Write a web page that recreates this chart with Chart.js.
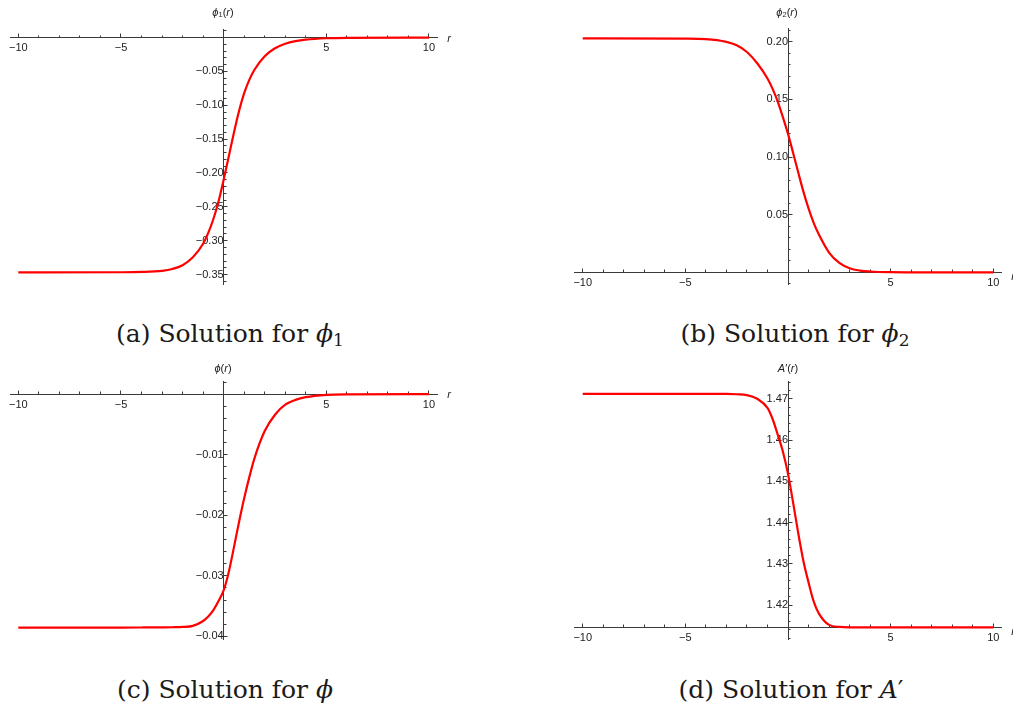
<!DOCTYPE html>
<html>
<head>
  <meta charset="utf-8">
  <title>Solutions</title>
  <script src="https://cdn.jsdelivr.net/npm/chart.js"></script>
  <style>
    body { margin: 0; width: 1013px; height: 711px; overflow: hidden; background: #fff; position: relative; }
    canvas { position: absolute; }
    .lab { position: absolute; transform: translate(-50%, -50%); font-family: 'Liberation Sans', Arial, sans-serif;
           font-size: 11px; color: #222; white-space: nowrap; }
    .lab sub { font-size: 7.5px; vertical-align: -1px; }
    .cap { position: absolute; width: 400px; text-align: center; line-height: 30px; font-family: 'DejaVu Serif', serif;
           font-size: 25px; color: #1a1a1a; white-space: nowrap; }
    .cap sub { font-size: 17px; vertical-align: -4px; font-style: normal; }
  </style>
</head>
<body>
  <canvas id="ca" width="480" height="300" style="left:0px;top:0px"></canvas>
  <canvas id="cb" width="453" height="300" style="left:560px;top:0px"></canvas>
  <canvas id="cc" width="480" height="300" style="left:0px;top:355px"></canvas>
  <canvas id="cd" width="453" height="300" style="left:560px;top:355px"></canvas>

  <div class="lab" style="left:223px;top:12px"><i>ϕ</i><sub>1</sub>(<i>r</i>)</div>
  <div class="lab" style="left:787px;top:12px"><i>ϕ</i><sub>2</sub>(<i>r</i>)</div>
  <div class="lab" style="left:223px;top:368px"><i>ϕ</i>(<i>r</i>)</div>
  <div class="lab" style="left:788px;top:368px"><i>A</i>′(<i>r</i>)</div>
  <div class="lab" style="left:449px;top:38px"><i>r</i></div>
  <div class="lab" style="left:449px;top:394px"><i>r</i></div>
  <div class="lab" style="left:1013px;top:276px"><i>r</i></div>
  <div class="lab" style="left:1013px;top:631px"><i>r</i></div>

  <div class="cap" style="left:30px;top:319px">(a) Solution for <i>ϕ</i><sub>1</sub></div>
  <div class="cap" style="left:595px;top:319px">(b) Solution for <i>ϕ</i><sub>2</sub></div>
  <div class="cap" style="left:25px;top:675px">(c) Solution for <i>ϕ</i></div>
  <div class="cap" style="left:591px;top:675px">(d) Solution for <i>A</i>′</div>

  <script>
    // values
    const r = [-10, -5, -4, -3, -2.5, -2, -1.5, -1, -0.75, -0.5, -0.25, 0, 0.25, 0.5, 0.75, 1, 1.25, 1.5, 2, 2.5, 3, 3.5, 4, 5, 6, 10];
    const phi1 = [-0.3468, -0.3466, -0.3462, -0.3445, -0.3418, -0.3362, -0.3245, -0.3045, -0.2885, -0.2680, -0.2420, -0.2100,
                  -0.1755, -0.1405, -0.1085, -0.0820, -0.0625, -0.0475, -0.0275, -0.0158, -0.0090, -0.0052, -0.0030, -0.0010, -0.0003, 0];
    const phi2 = [0.2028, 0.2026, 0.2022, 0.1998, 0.1968, 0.1910, 0.1812, 0.1680, 0.1590, 0.1480, 0.1345, 0.1200,
                  0.1035, 0.0865, 0.0700, 0.0555, 0.0430, 0.0330, 0.0172, 0.0082, 0.0036, 0.0016, 0.0008, 0.0002, 0.0001, 0];
    const phi = [-0.03853, -0.03853, -0.03852, -0.03850, -0.03848, -0.03843, -0.03825, -0.03745, -0.03670, -0.03565, -0.03415, -0.03240,
                 -0.02935, -0.02530, -0.02110, -0.01720, -0.01370, -0.01060, -0.00610, -0.00340, -0.00175, -0.00095, -0.00050, -0.00012, -0.00003, 0];
    const aPrime = [1.4712, 1.4712, 1.4712, 1.4712, 1.4711, 1.4709, 1.4700, 1.4678, 1.4651, 1.4613, 1.4572, 1.4518,
                    1.4448, 1.4374, 1.4307, 1.4255, 1.4209, 1.4180, 1.4152, 1.4147, 1.4146, 1.4146, 1.4146, 1.4146, 1.4146, 1.4146];

    // tick labels
    const xMajor = [-10, -5, 5, 10];
    const xLabels = ['−10', '−5', '5', '10'];
    const yMajorA = [-0.05, -0.10, -0.15, -0.20, -0.25, -0.30, -0.35];
    const yLabelsA = ['−0.05', '−0.10', '−0.15', '−0.20', '−0.25', '−0.30', '−0.35'];
    const yMajorB = [0.05, 0.10, 0.15, 0.20];
    const yLabelsB = ['0.05', '0.10', '0.15', '0.20'];
    const yMajorC = [-0.01, -0.02, -0.03, -0.04];
    const yLabelsC = ['−0.01', '−0.02', '−0.03', '−0.04'];
    const yMajorD = [1.42, 1.43, 1.44, 1.45, 1.46, 1.47];
    const yLabelsD = ['1.42', '1.43', '1.44', '1.45', '1.46', '1.47'];

    const axisColor = '#3a3a3a';
    const labelFont = { family: "'Liberation Sans', Arial, sans-serif", size: 11 };

    function steps(a, b, d, skip) {
      const out = [];
      const n = Math.round((b - a) / d);
      for (let i = 0; i <= n; i++) {
        const v = +(a + i * d).toFixed(6);
        if (skip.indexOf(v) < 0) out.push(v);
      }
      return out;
    }

    function makeChart(id, vals, o) {
      const pts = r.map((x, i) => ({ x: x, y: vals[i] }));
      const zeroH = s => { s.height = 0; };
      const zeroW = s => { s.width = 0; };
      const fixTicks = list => s => { s.ticks = list.map(v => ({ value: v })); };
      const xMinor = steps(-10, 10, 1, [0].concat(xMajor));
      new Chart(document.getElementById(id), {
        type: 'line',
        data: {
          datasets: [{
            data: pts, xAxisID: 'x', yAxisID: 'y',
            borderColor: '#ff0000', borderWidth: 2.2, pointRadius: 0,
            cubicInterpolationMode: 'monotone', fill: false
          }]
        },
        options: {
          responsive: false,
          animation: false,
          events: [],
          layout: { padding: o.pad },
          plugins: { legend: { display: false }, tooltip: { enabled: false } },
          scales: {
            x: {
              type: 'linear', min: -10.4, max: 10.4, position: { y: o.cross },
              afterFit: zeroH, afterBuildTicks: fixTicks(xMajor),
              grid: { drawOnChartArea: false, tickLength: -4.5, tickColor: axisColor, tickWidth: 1 },
              border: { color: axisColor, width: 1 },
              ticks: { padding: 8.5, autoSkip: false, maxRotation: 0, font: labelFont, color: '#222',
                       callback: (v, i) => xLabels[i] }
            },
            xm: {
              type: 'linear', min: -10.4, max: 10.4, position: { y: o.cross },
              afterFit: zeroH, afterBuildTicks: fixTicks(xMinor),
              grid: { drawOnChartArea: false, tickLength: -2.5, tickColor: axisColor, tickWidth: 1 },
              border: { display: false },
              ticks: { display: false }
            },
            y: {
              type: 'linear', min: o.yMin, max: o.yMax, position: { x: 0 },
              afterFit: zeroW, afterBuildTicks: fixTicks(o.major),
              grid: { drawOnChartArea: false, tickLength: -4.5, tickColor: axisColor, tickWidth: 1 },
              border: { color: axisColor, width: 1 },
              ticks: { padding: 8.5, autoSkip: false, font: labelFont, color: '#222',
                       callback: (v, i) => o.labels[i] }
            },
            ym: {
              type: 'linear', min: o.yMin, max: o.yMax, position: { x: 0 },
              afterFit: zeroW, afterBuildTicks: fixTicks(o.minor),
              grid: { drawOnChartArea: false, tickLength: -2.5, tickColor: axisColor, tickWidth: 1 },
              border: { display: false },
              ticks: { display: false }
            }
          }
        }
      });
    }

    makeChart('ca', phi1, {
      pad: { left: 10.1, right: 42.8, top: 29.5, bottom: 11.7 },
      yMin: -0.3653, yMax: 0.01195, cross: 0,
      major: yMajorA, labels: yLabelsA, minor: steps(-0.36, 0.01, 0.01, [0].concat(yMajorA))
    });
    makeChart('cb', phi2, {
      pad: { left: 14.5, right: 11.5, top: 28.3, bottom: 11.7 },
      yMin: -0.0108, yMax: 0.2115, cross: 0,
      major: yMajorB, labels: yLabelsB, minor: steps(-0.01, 0.21, 0.01, [0].concat(yMajorB))
    });
    makeChart('cc', phi, {
      pad: { left: 10.1, right: 42.8, top: 26.7, bottom: 11.5 },
      yMin: -0.04057, yMax: 0.00205, cross: 0,
      major: yMajorC, labels: yLabelsC, minor: steps(-0.04, 0.002, 0.002, [0].concat(yMajorC))
    });
    makeChart('cd', aPrime, {
      pad: { left: 14.5, right: 11.5, top: 26.7, bottom: 11.7 },
      yMin: 1.41156, yMax: 1.47414, cross: 1.4146,
      major: yMajorD, labels: yLabelsD, minor: steps(1.412, 1.474, 0.002, yMajorD)
    });
  </script>
</body>
</html>
